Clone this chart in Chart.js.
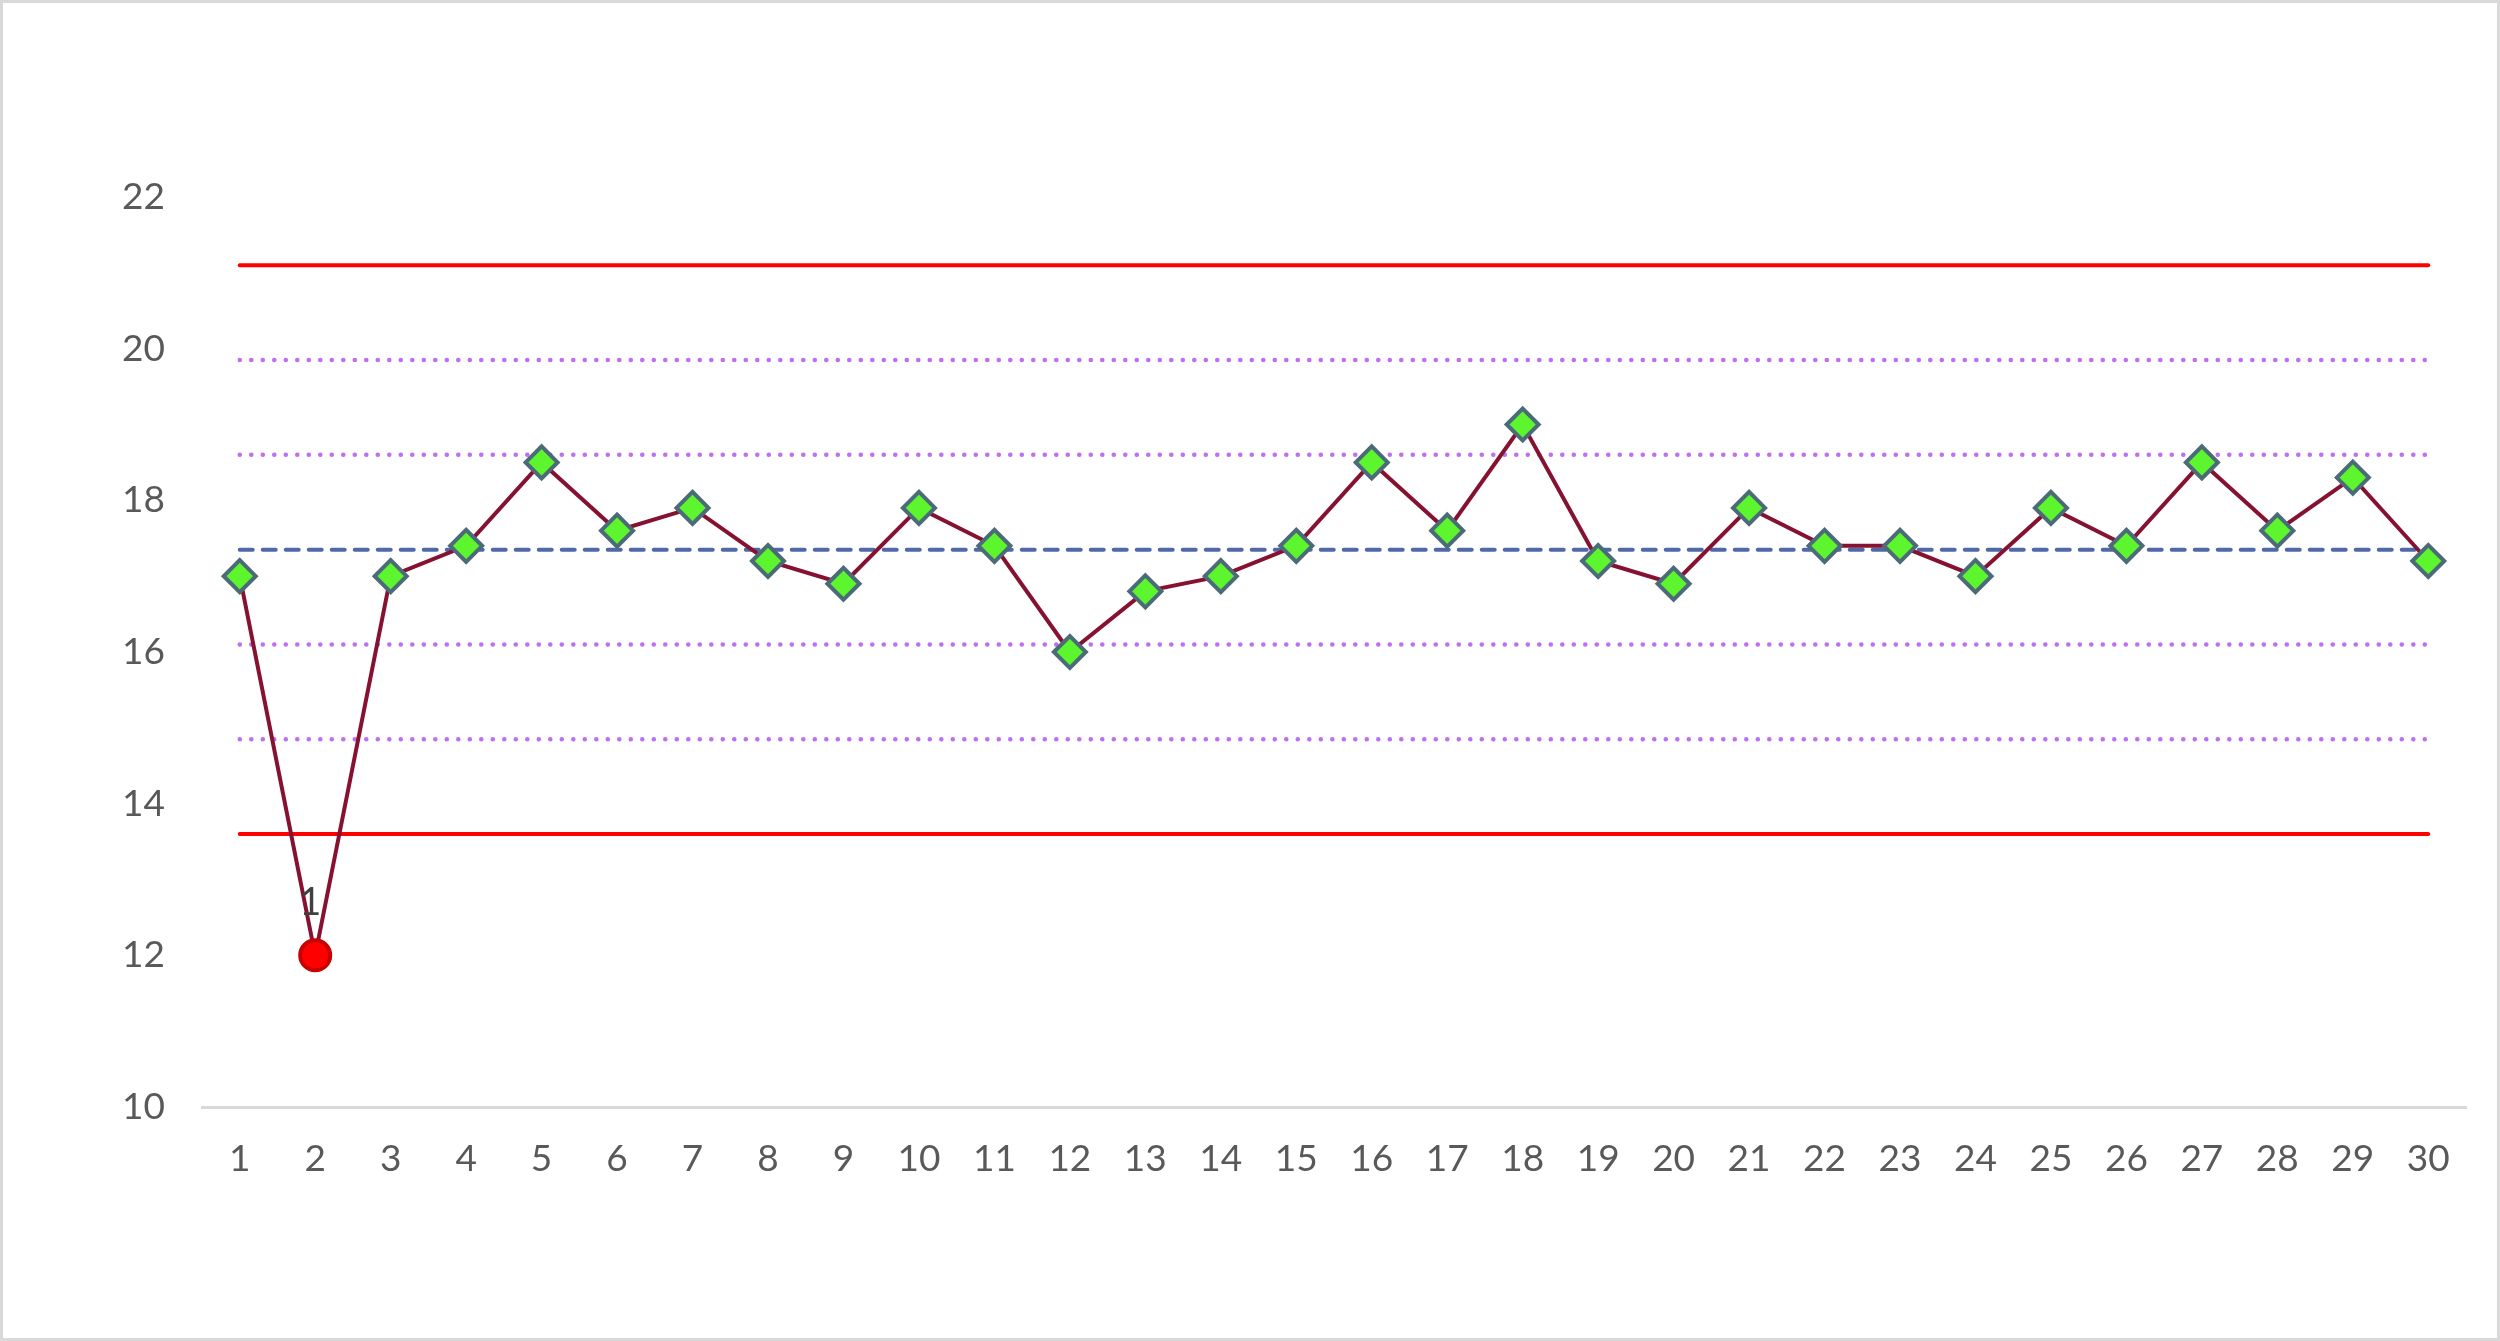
<!DOCTYPE html>
<html>
<head>
<meta charset="utf-8">
<script src="https://cdn.jsdelivr.net/npm/chart.js@4/dist/chart.umd.min.js"></script>
<style>
  html, body { margin: 0; padding: 0; background: #fff; }
  #wrap { width: 2500px; height: 1341px; box-sizing: border-box; border: 3px solid #d9d9d9; position: relative; }
  #chart { display: block; }
</style>
</head>
<body>
<div id="wrap"><canvas id="chart" width="2494" height="1335"></canvas></div>
<script>
const labels = Array.from({ length: 30 }, (_, i) => String(i + 1));
const values = [17, 12, 17, 17.4, 18.5, 17.6, 17.9, 17.2, 16.9, 17.9,
                 17.4, 16, 16.8, 17, 17.4, 18.5, 17.6, 19, 17.2, 16.9,
                 17.9, 17.4, 17.4, 17, 17.9, 17.4, 18.5, 17.6, 18.3, 17.2];
const yTicks = [10, 12, 14, 16, 18, 20, 22];

// control limits
const meanValue = 17.35;
const ucl = 21.1;
const lcl = 13.6;
const plus2 = 19.85;
const plus1 = 18.6;
const minus1 = 16.1;
const minus2 = 14.85;

// points flagged out of control
const flagged = [1];
const flagLabel = '1';

const flat = v => labels.map(() => v);

const pointColors = values.map((v, i) => flagged.includes(i) ? '#ff0000' : '#5cf52e');
const pointBorders = values.map((v, i) => flagged.includes(i) ? '#c80000' : '#4b6b78');
const pointStyles = values.map((v, i) => flagged.includes(i) ? 'circle' : 'rectRot');
const pointSizes = values.map((v, i) => flagged.includes(i) ? 15 : 16);

function limitLine(v, color, dash, width) {
    return {
        data: flat(v),
        borderColor: color,
        borderWidth: width,
        borderDash: dash,
        borderCapStyle: 'round',
        pointRadius: 0,
        fill: false,
        order: 2
    };
}

const flagPlugin = {
    id: 'flagLabel',
    afterDatasetsDraw(chart) {
        const meta = chart.getDatasetMeta(0);
        const ctx = chart.ctx;
        ctx.save();
        ctx.font = '38px Lato';
        ctx.fillStyle = '#404040';
        ctx.textAlign = 'center';
        ctx.textBaseline = 'middle';
        flagged.forEach(i => {
            const p = meta.data[i];
            ctx.fillText(flagLabel, p.x - 5, p.y - 53);
        });
        ctx.restore();
    }
};

const ctx = document.getElementById('chart');

new Chart(ctx, {
    type: 'line',
    data: {
        labels: labels,
        datasets: [
            {
                data: values,
                borderColor: '#861232',
                borderWidth: 4,
                pointStyle: pointStyles,
                pointRadius: pointSizes,
                pointBorderWidth: 4,
                pointBackgroundColor: pointColors,
                pointBorderColor: pointBorders,
                tension: 0,
                order: 1
            },
            limitLine(ucl, '#ff0000', [], 4),
            limitLine(lcl, '#ff0000', [], 4),
            limitLine(meanValue, '#5068a8', [13, 10], 4),
            limitLine(plus2, '#bf6ff2', [0.1, 11.4], 4.5),
            limitLine(plus1, '#bf6ff2', [0.1, 11.4], 4.5),
            limitLine(minus1, '#bf6ff2', [0.1, 11.4], 4.5),
            limitLine(minus2, '#bf6ff2', [0.1, 11.4], 4.5)
        ]
    },
    options: {
        responsive: false,
        animation: false,
        layout: { padding: { top: 194, right: 31, left: 0, bottom: 0 } },
        plugins: {
            legend: { display: false },
            tooltip: { enabled: false }
        },
        scales: {
            x: {
                offset: true,
                grid: { display: false, drawTicks: false },
                border: { display: true, color: '#d9d9d9', width: 3 },
                ticks: {
                    color: '#595959',
                    font: { family: 'Lato', size: 37 },
                    padding: 30,
                    maxRotation: 0,
                    autoSkip: false
                },
                afterFit(s) { s.height = 231; }
            },
            y: {
                min: 10,
                max: 22,
                afterBuildTicks(s) { s.ticks = yTicks.map(v => ({ value: v })); },
                grid: { display: false, drawTicks: false },
                border: { display: false },
                ticks: {
                    color: '#595959',
                    font: { family: 'Lato', size: 37 },
                    padding: 37
                },
                afterFit(s) { s.width = 199; }
            }
        }
    },
    plugins: [flagPlugin]
});
</script>
</body>
</html>
